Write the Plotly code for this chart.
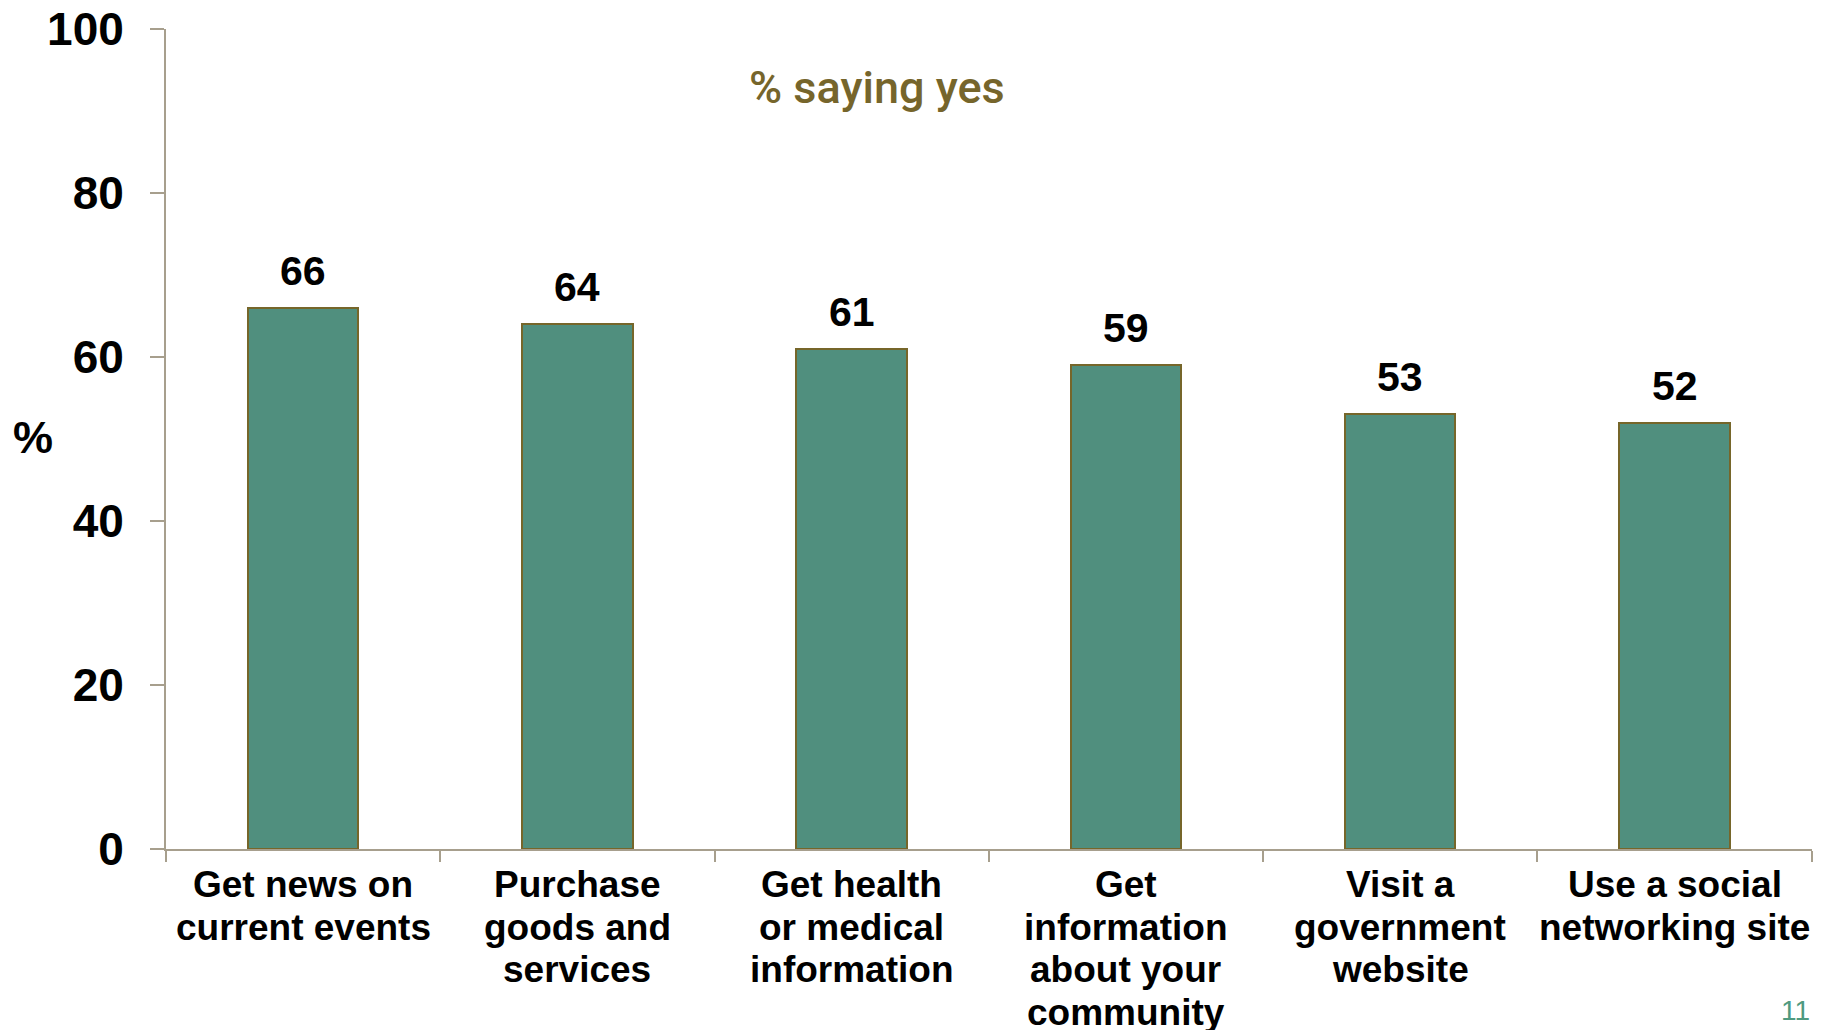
import plotly.graph_objects as go

categories = [
    "Get news on<br>current events",
    "Purchase<br>goods and<br>services",
    "Get health<br>or medical<br>information",
    "Get<br>information<br>about your<br>community",
    "Visit a<br>government<br>website",
    "Use a social<br>networking site",
]
values = [66, 64, 61, 59, 53, 52]
y_ticks = [0, 20, 40, 60, 80, 100]

BAR = "#508F7E"
EDGE = "#76662A"
AXIS = "#A79F8D"
FONT = "Liberation Sans, Arial, sans-serif"

fig = go.Figure()
fig.add_trace(go.Bar(
    x=categories,
    y=values,
    width=0.403,
    marker=dict(color=BAR, line=dict(color=EDGE, width=2)),
    hoverinfo="skip",
))

annotations = []
# data labels
for cat, v in zip(categories, values):
    annotations.append(dict(
        x=cat, y=v, xref="x", yref="y", text=str(v), showarrow=False,
        yanchor="bottom", yshift=12,
        font=dict(family=FONT, size=41, color="black", weight="bold"),
    ))
# category labels (one annotation per line for tight line spacing)
for cat in categories:
    for j, line in enumerate(cat.split("<br>")):
        annotations.append(dict(
            x=cat, y=0, xref="x", yref="y", text=line, showarrow=False,
            yanchor="top", yshift=-13 - j * 42.7,
            font=dict(family=FONT, size=37, color="black", weight="bold"),
        ))
# title
annotations.append(dict(
    x=0.432, y=0.9287, xref="paper", yref="paper", text="% saying yes",
    showarrow=False, xanchor="center", yanchor="middle",
    font=dict(family="Roboto, Liberation Sans, Arial, sans-serif", size=45,
              color="#76652B", weight=500),
))
# y axis title
annotations.append(dict(
    x=-0.0808, y=0.502, xref="paper", yref="paper", text="%",
    showarrow=False, xanchor="center", yanchor="middle",
    font=dict(family=FONT, size=45, color="black", weight="bold"),
))
# page number
annotations.append(dict(
    x=0.9897, y=-0.197, xref="paper", yref="paper", text="11",
    showarrow=False, xanchor="center", yanchor="middle",
    font=dict(family=FONT, size=28, color="#4F9A80"),
))

fig.update_layout(
    template="none",
    width=1828, height=1030,
    margin=dict(l=166, r=16, t=29, b=181, pad=0),
    plot_bgcolor="white", paper_bgcolor="white",
    showlegend=False,
    annotations=annotations,
    bargap=0,
)
fig.update_xaxes(
    type="category",
    tickson="boundaries", ticks="outside", ticklen=11, tickwidth=2, tickcolor=AXIS,
    showline=True, linecolor=AXIS, linewidth=2, showgrid=False, zeroline=False,
    showticklabels=False, automargin=False,
)
fig.update_yaxes(
    range=[0, 100], tickmode="array", tickvals=y_ticks,
    ticks="outside", ticklen=14, tickwidth=2, tickcolor=AXIS,
    showline=True, linecolor=AXIS, linewidth=2, showgrid=False, zeroline=False,
    tickfont=dict(family=FONT, size=46, color="black", weight="bold"),
    ticklabelstandoff=17, automargin=False,
)

fig.write_html(
    "out.html",
    config={"displayModeBar": False},
    post_script="document.body.style.margin='0';document.body.style.overflow='hidden';",
)
